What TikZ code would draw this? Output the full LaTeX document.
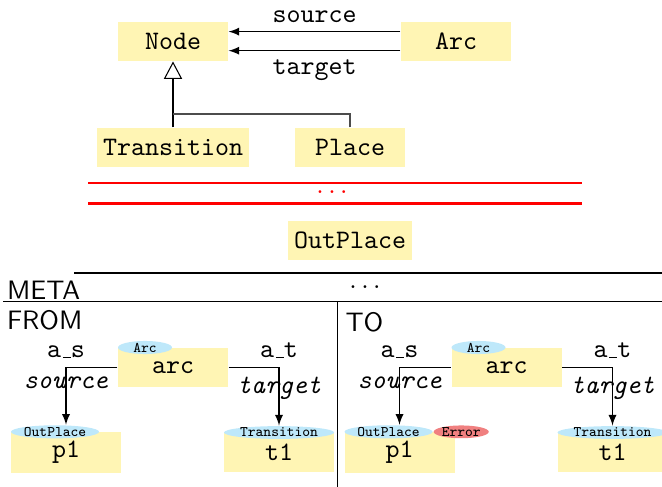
\documentclass[tikz,border=0pt]{standalone}
\usetikzlibrary{arrows.meta,shapes.geometric}
\definecolor{boxyellow}{RGB}{255,245,180}
\definecolor{tagblue}{RGB}{190,232,250}
\definecolor{tagred}{RGB}{240,128,128}
\newcommand{\uscore}{\leavevmode\kern.06em\vbox{\hrule width.3em}}
\tikzset{
	classbox/.style={fill=boxyellow, font=\ttfamily, minimum width=41.25pt, minimum height=14.6pt, inner xsep=2.25pt},
	typetag/.style={ellipse, fill=tagblue, inner sep=0pt, minimum width=20.25pt, font=\ttfamily\fontsize{5.5}{6}\selectfont},
	errtag/.style={typetag, fill=tagred},
	rolelbl/.style={font=\ttfamily\itshape},
	sectlbl/.style={font=\sffamily, anchor=base west, inner sep=0pt}
}
\begin{document}
\begin{tikzpicture}
	[
	x=0.375pt, y=-0.375pt, >=latex
	%Einheit: 1 Pixel
	]
	\useasboundingbox (0,0) rectangle (662,487);
	%Metamodell
	\node[classbox] (node) at (173,41.5) {Node};
	\node[classbox] (arc) at (456,41.5) {Arc};
	\node[classbox] (trans) at (173,147.5) {Transition};
	\node[classbox] (place) at (350,147.5) {Place};
	\node[classbox] (outplace) at (350,240.5) {OutPlace};
	\draw[->] ([yshift=3.7pt]arc.west) -- ([yshift=3.7pt]node.east) node[midway, above, font=\ttfamily] {source};
	\draw[->] ([yshift=-3.45pt]arc.west) -- ([yshift=-3.45pt]node.east) node[midway, below, font=\ttfamily] {target};
	\draw[-{Triangle[open, length=6.5pt, width=6.8pt]}] (trans.north) -- (node.south);
	\coordinate (join) at (173,114);
	\draw[black!70] (place.north) |- (join);
	%Trennlinien
	\draw[red, line width=0.8pt] (88,182.7) -- (582,182.7);
	\draw[red, line width=0.8pt] (88,203.5) -- (582,203.5);
	\node[text=red] (reddots) at (332,192) {$\ldots$};
	\draw[semithick] (74,273) -- (662,273);
	\draw[semithick] (3,301.7) -- (662,301.7);
	\draw[semithick] (337.5,301.7) -- (337.5,487);
	\node (dots) at (365,287.5) {$\ldots$};
	\node[sectlbl] (meta) at (6.5,299) {META};
	\node[sectlbl] (from) at (6.5,330) {FROM};
	\node[sectlbl] (to) at (345,331) {TO};
	%Instanzen
	\foreach \dx/\side in {0/F, 333.5/T}
	{
		\node[classbox] (arc\side) at (\dx+173,367.5) {arc};
		\node[typetag, anchor=west] (arctag\side) at (arc\side.north west) {Arc};
		\node[classbox] (p1\side) at (\dx+66,452.5) {p1};
		\node[typetag, anchor=west] (p1tag\side) at (p1\side.north west) {OutPlace};
		\node[classbox] (t1\side) at (\dx+279,452.5) {t1};
		\node[typetag, anchor=west] (t1tag\side) at (t1\side.north west) {Transition};
		\draw[->] (arc\side.west) -| (p1\side.north |- p1tag\side.north)
			node[pos=0.5, above, font=\ttfamily] {a\uscore s}
			node[pos=0.5, below, rolelbl] {source};
		\draw[->] (arc\side.east) -| (t1\side.north |- t1tag\side.north)
			node[pos=0.5, above, font=\ttfamily] {a\uscore t}
			node[pos=0.5, below, rolelbl] {target};
	}
	\node[errtag, anchor=west] (errT) at (p1tagT.east) {Error};
\end{tikzpicture}
\end{document}
